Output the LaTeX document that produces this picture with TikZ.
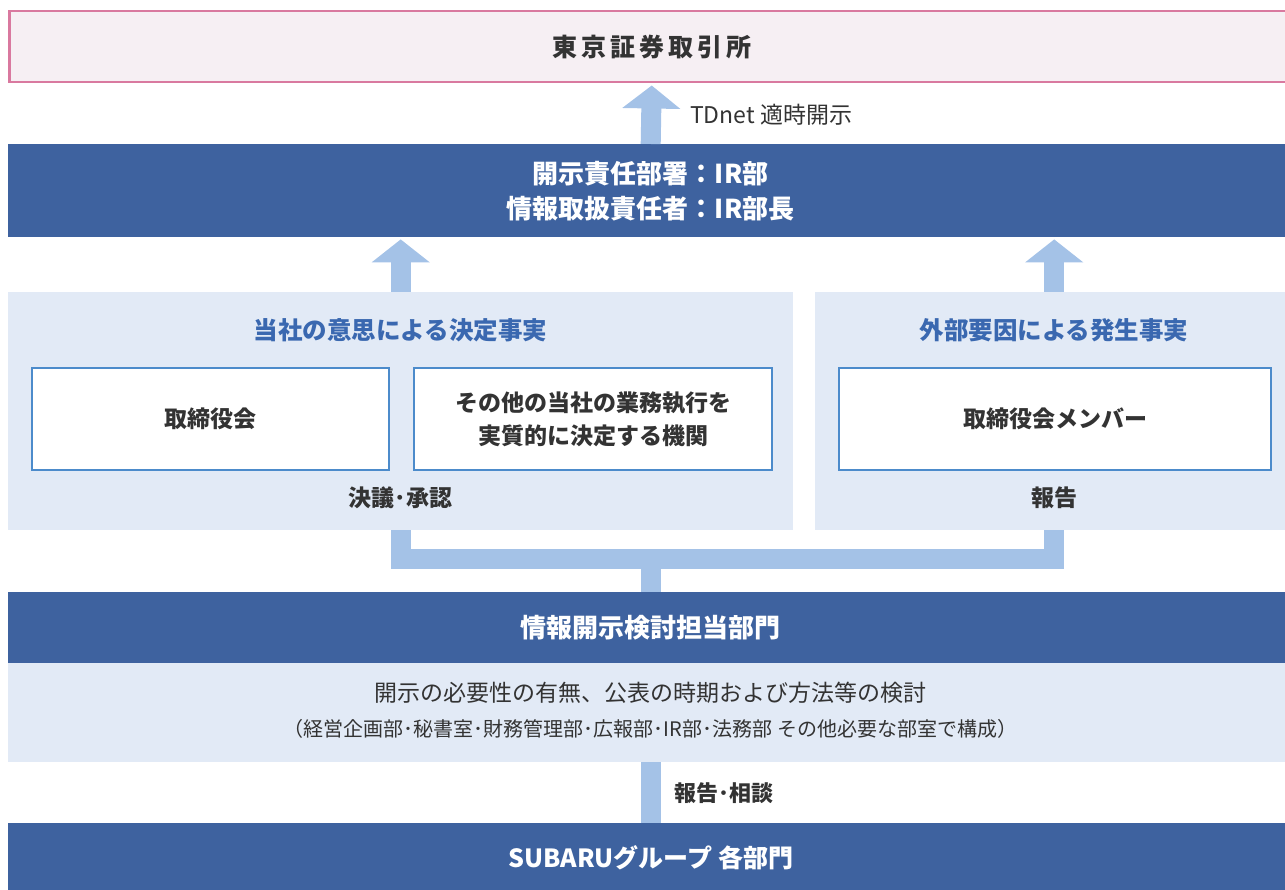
\documentclass[tikz,border=0pt]{standalone}
\usepackage{fontspec}
\setmainfont{Noto Sans CJK JP}
\usetikzlibrary{arrows.meta}
\definecolor{bandblue}{HTML}{3E629F}
\definecolor{panelblue}{HTML}{E2EAF6}
\definecolor{flowblue}{HTML}{A4C2E7}
\definecolor{boxline}{HTML}{4C8BCB}
\definecolor{titleblue}{HTML}{3A68B0}
\definecolor{tsepink}{HTML}{D9799F}
\definecolor{tsefill}{HTML}{F6EFF3}
\definecolor{textgray}{HTML}{333333}
\tikzset{
	band/.style={fill=bandblue,text=white,anchor=north west,inner sep=0pt,minimum width=1285pt,align=center,font=\bfseries\fontsize{26}{35}\selectfont},
	panel/.style={fill=panelblue,anchor=north west,inner sep=0pt},
	organ/.style={draw=boxline,line width=2pt,fill=white,anchor=north west,inner sep=0pt,minimum height=102pt,align=center,text=textgray,font=\bfseries\fontsize{23}{33}\selectfont},
	heading/.style={text=titleblue,inner sep=0pt,font=\bfseries\fontsize{24.5}{30}\selectfont},
	label/.style={text=textgray,inner sep=0pt,font=\bfseries\fontsize{23}{30}\selectfont},
	note/.style={text=textgray,inner sep=0pt,font=\fontsize{23}{30}\selectfont},
	flow/.style={flowblue,line width=20pt},
	uparrow/.style={flow,-{Triangle[width=57pt,length=23pt]},shorten >=2pt}
}
\begin{document}
\begin{tikzpicture}[x=1pt,y=-1pt]
	\useasboundingbox (0,0) rectangle (1285,890);
	\clip (0,0) rectangle (1285,890);
	% exchange and disclosure office
	\node[draw=tsepink,line width=2.5pt,fill=tsefill,anchor=north west,inner sep=0pt,minimum width=1285pt,minimum height=71pt,text=textgray,font=\bfseries\fontsize{25}{30}\selectfont\addfontfeatures{LetterSpace=16}] (tse) at (8,10) {東京証券取引所};
	\node[band,minimum height=93pt] (disc) at (8,144) {開示責任部署：IR部\\情報取扱責任者：IR部長};
	\node[note,anchor=west] (tdnet) at (690,115) {TDnet 適時開示};
	% facts
	\node[panel,minimum width=785pt,minimum height=238pt] (own) at (8,292) {};
	\node[panel,minimum width=478pt,minimum height=238pt] (ext) at (815,292) {};
	\node[heading] (owntitle) at (400.5,330) {当社の意思による決定事実};
	\node[heading] (exttitle) at (1054,330) {外部要因による発生事実};
	\node[organ,minimum width=357pt] (board) at (31,367) {取締役会};
	\node[organ,minimum width=358pt] (executive) at (413,367) {その他の当社の業務執行を\\実質的に決定する機関};
	\node[organ,minimum width=432pt] (members) at (838,367) {取締役会メンバー};
	\node[label] (ownresult) at (400.5,498) {決議･承認};
	\node[label] (extresult) at (1054,498) {報告};
	% review section and group
	\node[band,minimum height=71pt] (check) at (8,592) {情報開示検討担当部門};
	\node[panel,minimum width=1285pt,minimum height=99pt] (review) at (8,663) {};
	\node[note] (reviewtask) at (650.5,693) {開示の必要性の有無、公表の時期および方法等の検討};
	\node[note,font=\fontsize{20}{26}\selectfont] (reviewmembers) at (650.5,729) {（経営企画部･秘書室･財務管理部･広報部･IR部･法務部 その他必要な部室で構成）};
	\node[band,minimum height=70pt,font=\bfseries\fontsize{25}{30}\selectfont] (group) at (8,823) {SUBARUグループ 各部門};
	\node[label,anchor=west,font=\bfseries\fontsize{22}{30}\selectfont] (consult) at (674,793) {報告･相談};
	% flows
	\draw[uparrow] (disc.north) -- (tse.south);
	\draw[uparrow] (own.north) -- (disc.south -| own.north);
	\draw[uparrow] (ext.north) -- (disc.south -| ext.north);
	\path (own.south) ++(0,29) coordinate (bend);
	\draw[flow] (own.south) -- (bend) -| (ext.south);
	\draw[flow] (bend -| check.north) -- (check.north);
	\draw[flow] (group.north) -- (review.south);
\end{tikzpicture}
\end{document}
